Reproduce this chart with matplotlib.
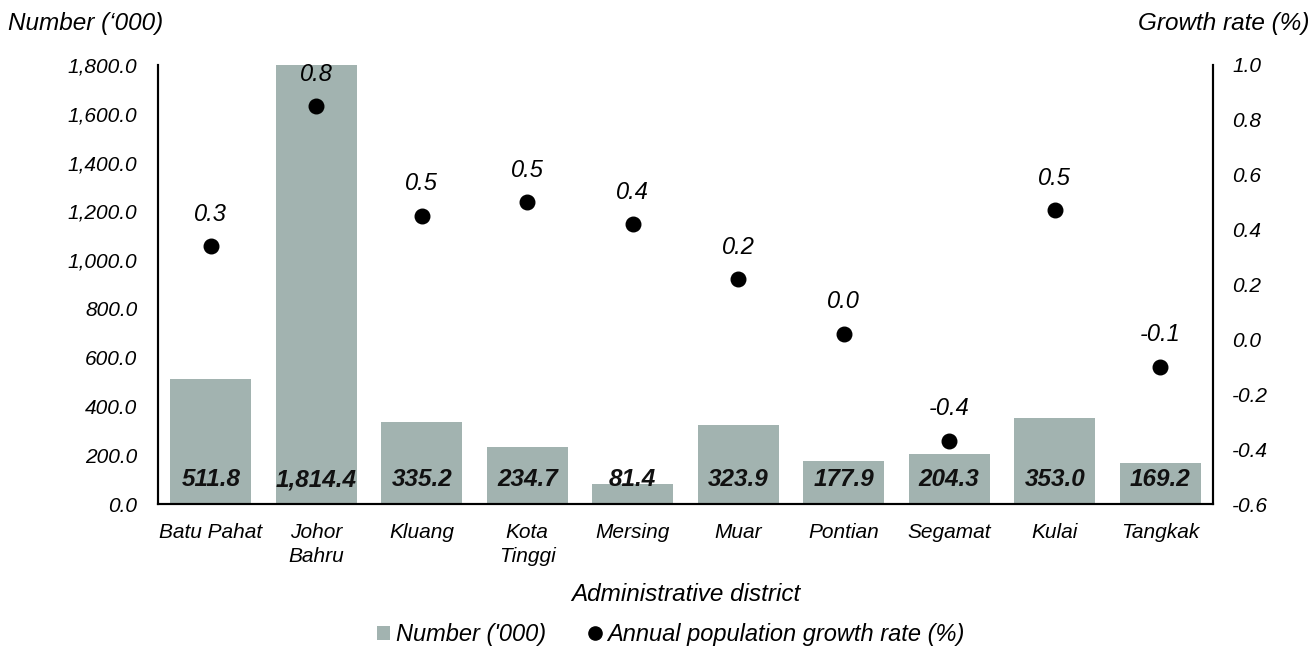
import matplotlib
matplotlib.use("Agg")
import matplotlib.pyplot as plt
from matplotlib.lines import Line2D
from matplotlib.patches import Patch

plt.rcParams['font.family'] = ['Liberation Sans', 'DejaVu Sans']

districts = ["Batu Pahat", "Johor\nBahru", "Kluang", "Kota\nTinggi", "Mersing",
             "Muar", "Pontian", "Segamat", "Kulai", "Tangkak"]
population = [511.8, 1814.4, 335.2, 234.7, 81.4, 323.9, 177.9, 204.3, 353.0, 169.2]
growth_rate = [0.34, 0.85, 0.45, 0.50, 0.42, 0.22, 0.02, -0.37, 0.47, -0.10]
left_ticks = [0, 200, 400, 600, 800, 1000, 1200, 1400, 1600, 1800]
right_ticks = [-0.6, -0.4, -0.2, 0.0, 0.2, 0.4, 0.6, 0.8, 1.0]

bar_color = "#a2b3b0"

fig = plt.figure(figsize=(13.15, 6.61), dpi=100)
ax = fig.add_axes([0.1202, 0.2375, 0.8022, 0.6642])
ax2 = ax.twinx()

x = list(range(len(districts)))
ax.bar(x, population, width=0.77, color=bar_color, zorder=1)
ax.set_xlim(-0.5, len(districts) - 0.5)
ax.set_ylim(0, 1800)
ax.set_yticks(left_ticks)
ax.set_yticklabels([f"{v:,.1f}" for v in left_ticks], fontsize=15, style='italic')
ax.set_xticks(x)
ax.set_xticklabels(districts, fontsize=15, style='italic', linespacing=1.3)
ax.tick_params(axis='y', length=0, pad=15)
ax.tick_params(axis='x', length=0, pad=14)

for xi, v in zip(x, population):
    ax.text(xi, 100, f"{v:,.1f}", ha='center', va='center', fontsize=17.5,
            fontweight='bold', style='italic', color='#111111', zorder=3)

ax2.scatter(x, growth_rate, s=110, color='black', zorder=4)
ax2.set_ylim(-0.6, 1.0)
ax2.set_yticks(right_ticks)
ax2.set_yticklabels([f"{v:.1f}" for v in right_ticks], fontsize=15, style='italic')
ax2.tick_params(axis='y', length=0, pad=14)
for xi, g in zip(x, growth_rate):
    ax2.annotate(f"{g:.1f}", (xi, g), xytext=(0, 23), textcoords='offset points',
                 ha='center', va='center', fontsize=17, style='italic')

for a in (ax, ax2):
    a.spines['top'].set_visible(False)
    a.spines['left'].set_linewidth(1.5)
    a.spines['right'].set_linewidth(1.5)
    a.spines['bottom'].set_linewidth(1.5)

ax.set_xlabel("Administrative district", fontsize=17.5, style='italic', labelpad=12)

fig.text(0.006, 0.965, "Number (\u2018000)", fontsize=17.5, style='italic',
         ha='left', va='center')
fig.text(0.996, 0.965, "Growth rate (%)", fontsize=17.5, style='italic',
         ha='right', va='center')

handles = [
    Patch(facecolor=bar_color, edgecolor='none', label="Number ('000)"),
    Line2D([0], [0], marker='o', color='none', markerfacecolor='black',
           markeredgecolor='black', markersize=9.5,
           label="Annual population growth rate (%)"),
]
fig.legend(handles=handles, loc='center', bbox_to_anchor=(0.51, 0.04), ncol=2,
           frameon=False, prop={'size': 17, 'style': 'italic'},
           handlelength=0.55, handleheight=0.55, handletextpad=0.25,
           columnspacing=1.8)

fig.savefig("out.png", dpi=100)
